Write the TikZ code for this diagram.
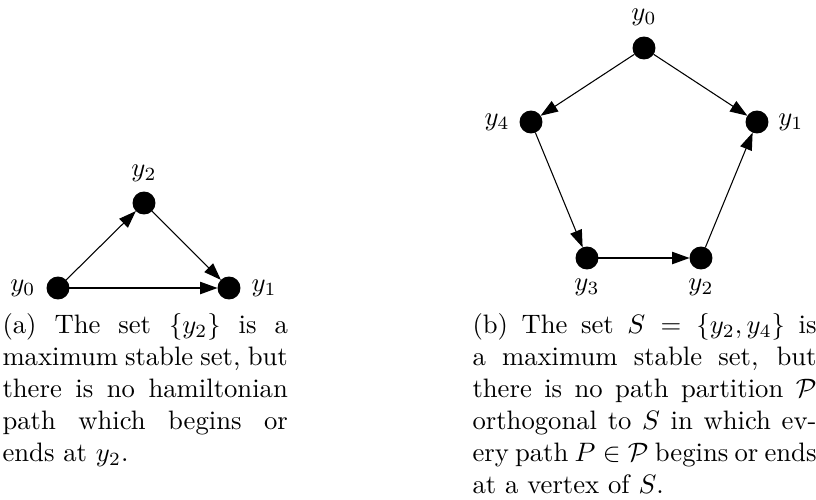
\documentclass[tikz,border=0pt]{standalone}
\usepackage{amsmath}
\usepackage{amssymb}
\usepackage{tikz}
\usetikzlibrary{arrows.meta,positioning}

\begin{document}
\begin{tikzpicture}[
    x=0.375pt, y=-0.375pt,
    vertex/.style={circle, fill=black, draw=black, minimum size=8.2pt, inner sep=0pt},
    vlabel/.style={inner sep=0pt},
    capt/.style={anchor=north west, inner sep=0pt, align=justify},
    arrow/.style={-{Triangle[length=6.5pt,width=4.6pt]}}
]
\useasboundingbox (0,0) rectangle (816,499);
% (a) triangle
\node[vertex] (a0) at (58,288) {};
\node[vertex] (a1) at (229,288) {};
\node[vertex] (a2) at (144,203) {};
\node[vlabel, left=4pt of a0] (la0) {$y_0$};
\node[vlabel, right=4pt of a1] (la1) {$y_1$};
\node[vlabel, above=3.5pt of a2] (la2) {$y_2$};
\draw[arrow] (a0) -- (a2);
\draw[arrow] (a2) -- (a1);
\draw[arrow] (a0) -- (a1);
\node[capt, text width=107pt] (capa) at (2,313)
    {(a) The set $\{y_2\}$ is a\linebreak maximum stable set, but\linebreak
     there is no hamiltonian\linebreak path which begins or\linebreak ends at $y_2$.};
% (b) pentagon
\node[vertex] (b0) at (644,48) {};
\node[vertex] (b1) at (757,122) {};
\node[vertex] (b2) at (701,258) {};
\node[vertex] (b3) at (587,258) {};
\node[vertex] (b4) at (531,122) {};
\node[vlabel, above=3.75pt of b0] (lb0) {$y_0$};
\node[vlabel, right=3.5pt of b1] (lb1) {$y_1$};
\node[vlabel, below=3.5pt of b2] (lb2) {$y_2$};
\node[vlabel, below=3.5pt of b3] (lb3) {$y_3$};
\node[vlabel, left=3.5pt of b4] (lb4) {$y_4$};
\draw[arrow] (b0) -- (b4);
\draw[arrow] (b0) -- (b1);
\draw[arrow] (b4) -- (b3);
\draw[arrow] (b3) -- (b2);
\draw[arrow] (b2) -- (b1);
\node[capt, text width=129pt] (capb) at (472,313)
    {(b) The set $S=\{y_2,y_4\}$ is\linebreak a maximum stable set, but\linebreak
     there is no path partition $\mathcal{P}$\linebreak orthogonal to $S$ in which ev-\linebreak
     ery path $P\in\mathcal{P}$ begins or ends\linebreak at a vertex of $S$.};
\end{tikzpicture}
\end{document}
